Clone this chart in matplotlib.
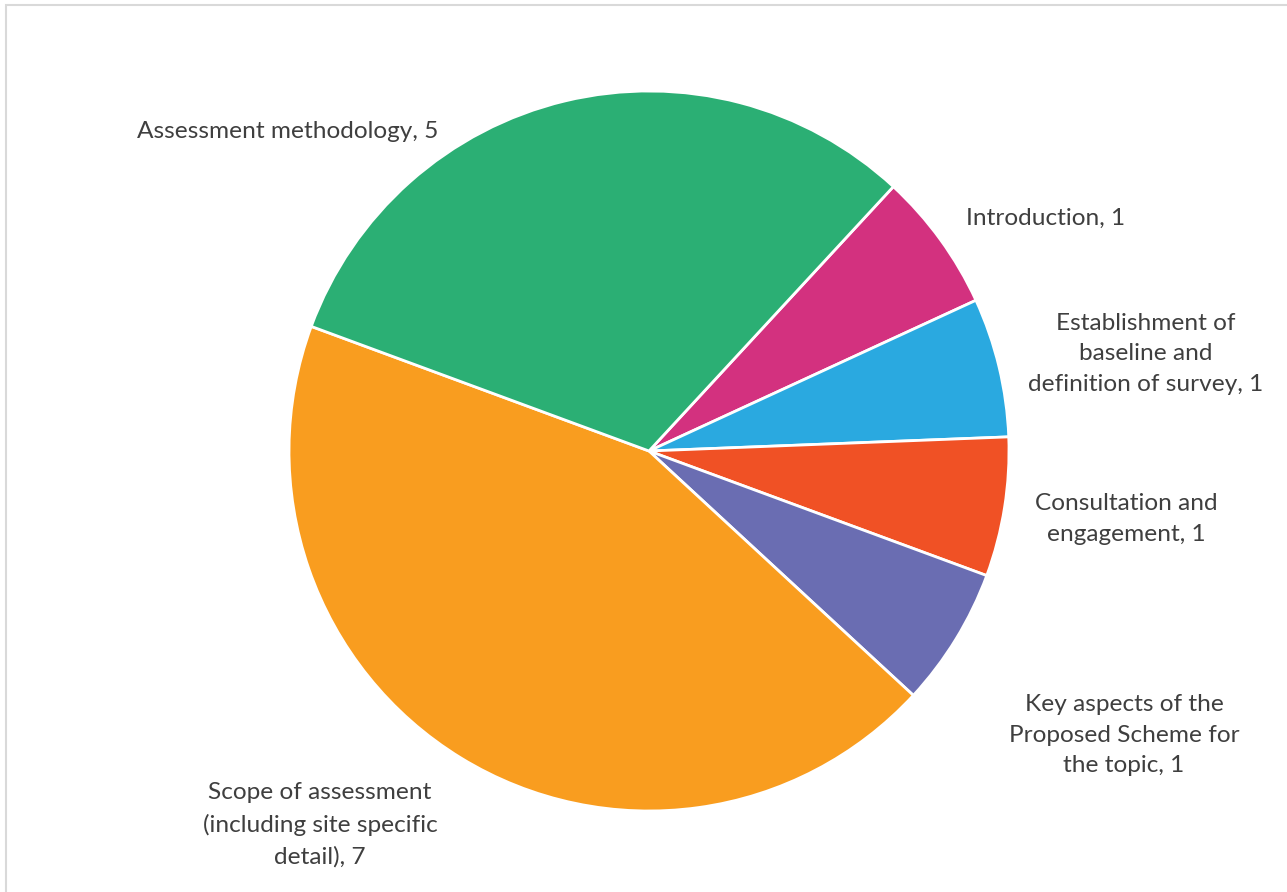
import matplotlib
matplotlib.use("Agg")
import matplotlib.pyplot as plt
from matplotlib.patches import Rectangle

# Section topics and the number of comments on each
categories = [
    "Introduction",
    "Establishment of\nbaseline and\ndefinition of survey",
    "Consultation and\nengagement",
    "Key aspects of the\nProposed Scheme for\nthe topic",
    "Scope of assessment\n(including site specific\ndetail)",
    "Assessment methodology",
]
counts = [1, 1, 1, 1, 7, 5]
colors = ["#D3317F", "#2AA9E0", "#F05125", "#6A6DB2", "#F99D1F", "#2BAF74"]

# Label anchor points (pixel space, origin bottom-left)
label_xy = [
    (1046, 892 - 218),
    (1146, 892 - 354),
    (1126, 892 - 519),
    (1124, 892 - 735),
    (320, 892 - 825),
    (288, 892 - 131),
]

W, H = 1287, 892
fig = plt.figure(figsize=(W / 100, H / 100), dpi=100)
fig.patch.set_facecolor("white")
ax = fig.add_axes([0, 0, 1, 1])

ax.pie(
    counts,
    colors=colors,
    startangle=47.25,
    counterclock=False,
    center=(649, H - 451),
    radius=360,
    wedgeprops=dict(edgecolor="white", linewidth=2),
    frame=True,
)
ax.set_xlim(0, W)
ax.set_ylim(0, H)
ax.set_aspect("equal")
ax.axis("off")

for name, n, (x, y) in zip(categories, counts, label_xy):
    ax.text(
        x, y, f"{name}, {n}",
        ha="center", va="center", multialignment="center",
        fontsize=17.6, family="Lato", color="#3F3F3F", linespacing=1.58,
    )

# Outer chart-area border
fig.add_artist(Rectangle((6 / W, -0.05), 1.2, (H - 4.5) / H + 0.05,
                         transform=fig.transFigure, fill=False,
                         edgecolor="#D9D9D9", linewidth=1.5))

fig.savefig("out.png", dpi=100, facecolor="white")
